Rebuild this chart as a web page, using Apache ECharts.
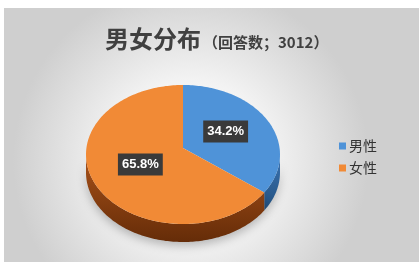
<!DOCTYPE html>
<html>
<head>
<meta charset="utf-8">
<script src="https://cdn.jsdelivr.net/npm/echarts@6/dist/echarts.min.js"></script>
<style>
  html, body { margin: 0; padding: 0; background: #fff; }
  #chart { width: 419px; height: 262px; }
</style>
</head>
<body>
<div id="chart"></div>
<script>
var categories = ['男性', '女性'];
var values = [34.2, 65.8];
var answerCount = 3012;

var colors = ['#4f93d8', '#f18a36'];
var sideColors = [['#3b74b3', '#22507f'], ['#a9521a', '#652c08']];

// pie geometry (tilted)
var cx = 183, cy = 154.5, rx = 97, ry = 69.5, vy = 148, depth = 18;

function arcPt(a, dy) {
  return [cx + rx * Math.sin(a), cy - ry * Math.cos(a) + (dy || 0)];
}
function arcPts(a0, a1, dy) {
  var pts = [], n = Math.max(2, Math.ceil(Math.abs(a1 - a0) / 0.02));
  for (var k = 0; k <= n; k++) pts.push(arcPt(a0 + (a1 - a0) * k / n, dy));
  return pts;
}

var sum = values.reduce(function (a, b) { return a + b; }, 0);

function renderSlice(params, api) {
  var i = params.seriesIndex;
  var before = 0;
  for (var k = 0; k < i; k++) before += values[k];
  var start = before / sum * Math.PI * 2;
  var end = (before + values[i]) / sum * Math.PI * 2;
  var children = [];

  // visible side (front half)
  var a0 = Math.max(start, Math.PI / 2), a1 = Math.min(end, Math.PI * 1.5);
  if (a0 < a1) {
    var side = arcPts(a0, a1, 0).concat(arcPts(a1, a0, depth));
    children.push({
      type: 'polygon',
      shape: { points: side },
      style: {
        fill: new echarts.graphic.LinearGradient(0, 0, 0, 1, [
          { offset: 0, color: sideColors[i][0] },
          { offset: 1, color: sideColors[i][1] }
        ]),
        shadowBlur: 10,
        shadowColor: 'rgba(0,0,0,0.25)',
        shadowOffsetY: 4
      }
    });
  }

  // top face
  children.push({
    type: 'polygon',
    shape: { points: [[cx, vy]].concat(arcPts(start, end, 0)) },
    style: { fill: colors[i] }
  });

  // label
  var mid = (start + end) / 2;
  children.push({
    type: 'text',
    x: cx + 0.5 * rx * Math.sin(mid),
    y: vy - 0.5 * ry * Math.cos(mid),
    style: {
      text: values[i].toFixed(1) + '%',
      fill: '#fff',
      font: 'bold 13px "Liberation Sans Narrow", "Liberation Sans", sans-serif',
      align: 'center',
      verticalAlign: 'middle',
      backgroundColor: '#3a3a3a',
      padding: [5, 4, 4, 4]
    }
  });

  return { type: 'group', children: children };
}

var chart = echarts.init(document.getElementById('chart'));
chart.setOption({
  animation: false,
  backgroundColor: '#fff',
  graphic: [{
    type: 'rect',
    z: -10,
    shape: { x: 4, y: 8, width: 415, height: 254 },
    style: {
      fill: new echarts.graphic.RadialGradient(0.45, 0.6, 0.7, [
        { offset: 0, color: '#ffffff' },
        { offset: 0.45, color: '#f3f3f3' },
        { offset: 1, color: '#cfcfcf' }
      ])
    }
  }],
  title: {
    left: 100,
    top: 22,
    text: '{a|男女分布}{b|（回答数；' + answerCount + '）}',
    textStyle: {
      rich: {
        a: { fontSize: 24, fontFamily: 'Noto Sans CJK SC', color: '#404040', fontWeight: 'bold' },
        b: { fontSize: 15, fontFamily: 'Noto Sans CJK SC', color: '#404040', padding: [6, 0, 0, 2] }
      }
    }
  },
  legend: {
    orient: 'vertical',
    left: 334,
    top: 134,
    icon: 'rect',
    itemWidth: 7,
    itemHeight: 7,
    itemGap: 8,
    textStyle: { fontSize: 14, color: '#333', fontFamily: 'Noto Sans CJK SC', padding: [0, 0, 0, -2] },
    data: categories
  },
  series: categories.map(function (name, i) {
    return {
      type: 'custom',
      name: name,
      coordinateSystem: 'none',
      itemStyle: { color: colors[i] },
      renderItem: renderSlice,
      data: [values[i]]
    };
  })
});
</script>
</body>
</html>
